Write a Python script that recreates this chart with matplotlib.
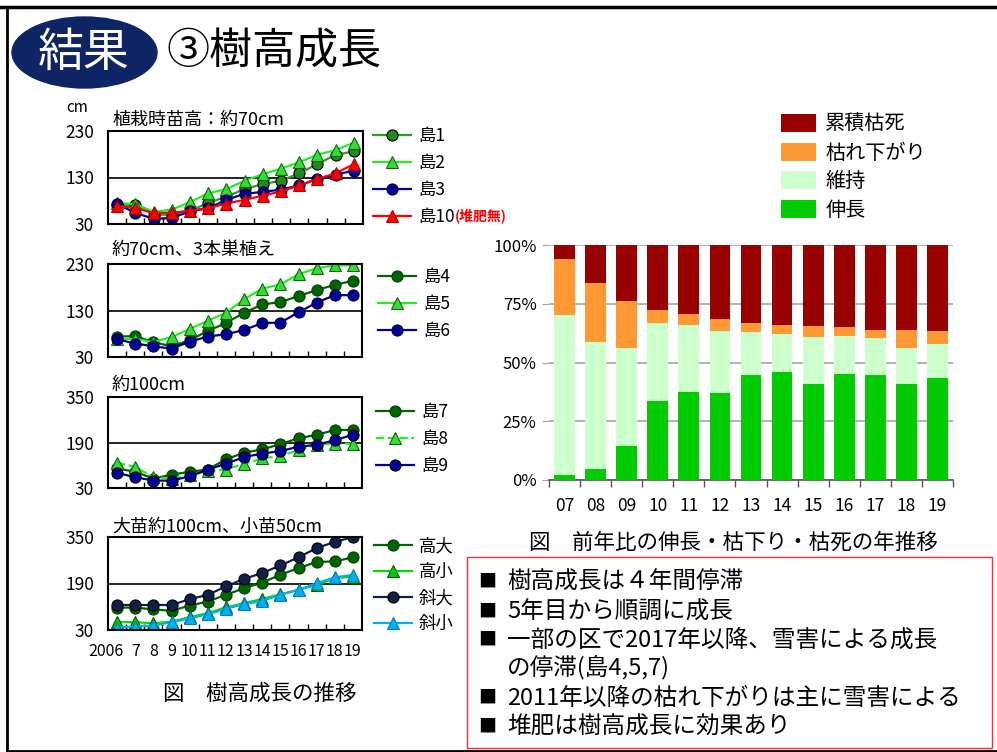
import numpy as np
import matplotlib
matplotlib.use("Agg")
import matplotlib.pyplot as plt
from matplotlib.patches import Ellipse, Rectangle, Patch
from matplotlib.lines import Line2D

plt.rcParams['font.family'] = ['Noto Sans CJK JP', 'DejaVu Sans']

W, H = 997, 752

# ---- data ----
years = [2006, 2007, 2008, 2009, 2010, 2011, 2012, 2013, 2014, 2015, 2016, 2017, 2018, 2019]
year_labels = ["2006", "7", "8", "9", "10", "11", "12", "13", "14", "15", "16", "17", "18", "19"]

shima1 = [71, 71, 50, 50, 59, 75, 89, 105, 116, 123, 139, 159, 179, 186]
shima2 = [75, 73, 56, 61, 77, 96, 105, 123, 137, 149, 163, 179, 189, 205]
shima3 = [73, 54, 41, 43, 57, 64, 82, 95, 99, 104, 113, 127, 136, 145]
shima10 = [69, 64, 54, 54, 59, 64, 74, 82, 91, 100, 113, 127, 139, 159]

shima4 = [74, 75, 62, 53, 66, 86, 103, 125, 143, 148, 161, 174, 185, 194]
shima5 = [69, 69, 62, 73, 90, 108, 125, 154, 177, 186, 208, 221, 227, 227]
shima6 = [68, 59, 53, 48, 63, 74, 79, 88, 103, 104, 126, 147, 163, 163]

shima7 = [99, 87, 63, 77, 87, 95, 131, 154, 166, 184, 205, 217, 234, 234]
shima8 = [119, 104, 68, 63, 75, 89, 95, 115, 134, 143, 163, 182, 186, 186]
shima9 = [83, 68, 56, 56, 71, 95, 115, 139, 151, 160, 175, 182, 198, 217]

taka_dai = [107, 107, 101, 96, 114, 128, 151, 174, 193, 220, 243, 264, 266, 280]
taka_sho = [57, 57, 53, 59, 74, 88, 108, 122, 137, 153, 168, 185, 208, 214]
naname_dai = [116, 116, 116, 116, 136, 151, 180, 206, 226, 252, 280, 312, 333, 350]
naname_sho = [38, 42, 45, 57, 70, 84, 103, 119, 130, 151, 168, 191, 211, 220]

bar_years = ["07", "08", "09", "10", "11", "12", "13", "14", "15", "16", "17", "18", "19"]
shincho = [2.1, 4.5, 14.5, 33.6, 37.6, 36.9, 44.7, 46.1, 40.9, 45.1, 44.7, 40.9, 43.5]
iji = [68.1, 54.1, 41.5, 33.1, 28.4, 26.5, 18.3, 16.0, 19.8, 16.2, 15.6, 15.1, 14.2]
karesagari = [23.8, 25.4, 20.3, 5.6, 4.6, 5.0, 3.7, 3.9, 4.8, 3.9, 3.5, 7.8, 5.7]
ruiseki = [6.0, 16.0, 23.7, 27.7, 29.4, 31.6, 33.3, 34.0, 34.5, 34.8, 36.2, 36.2, 36.6]

notes = ["樹高成長は４年間停滞", "5年目から順調に成長", "一部の区で2017年以降、雪害による成長",
         "の停滞(島4,5,7)", "2011年以降の枯れ下がりは主に雪害による", "堆肥は樹高成長に効果あり"]
note_bullets = [True, True, True, False, True, True]

fig = plt.figure(figsize=(W / 100, H / 100), dpi=100)


def px_axes(l, t, r, b):
    return fig.add_axes([l / W, 1 - b / H, (r - l) / W, (b - t) / H])


def fx(x):
    return x / W


def fy(y):
    return 1 - y / H


# ---- frame & title ----
fig.add_artist(Line2D([fx(0), fx(W)], [fy(7), fy(7)], color='black', lw=2.5))
fig.add_artist(Line2D([fx(7), fx(7)], [fy(7), fy(751)], color='black', lw=2))
fig.add_artist(Line2D([fx(7), fx(W)], [fy(751), fy(751)], color='black', lw=2))
fig.add_artist(Ellipse((fx(84.5), fy(52.5)), 145 / W, 71 / H, color='#0e2465'))
fig.text(fx(84), fy(53), "結果", color='white', fontsize=33, ha='center', va='center')
fig.text(fx(166), fy(52), "③樹高成長", color='black', fontsize=31, ha='left', va='center')

# ---- line charts ----
x = np.arange(len(years))

charts = [
    dict(box=(108, 131, 363, 224), yl=(30, 230), title="植栽時苗高：約70cm", ty=120,
         leg=(373, 127), sp=0.52,
         series=[("島1", shima1, dict(color='#2e9a2e', marker='o', mfc='#1f8a1f', mec='black')),
                 ("島2", shima2, dict(color='#22ee22', marker='^', mfc='#33dd33', mec='#116611')),
                 ("島3", shima3, dict(color='#000099', marker='o', mfc='#000099', mec='#000033')),
                 ("島10", shima10, dict(color='#ff0000', marker='^', mfc='#ff0000', mec='#aa0000'))]),
    dict(box=(108, 264, 362, 357), yl=(30, 230), title="約70cm、3本巣植え", ty=250,
         leg=(378, 268), sp=0.52,
         series=[("島4", shima4, dict(color='#006400', marker='o', mfc='#006400', mec='#004000')),
                 ("島5", shima5, dict(color='#22ee22', marker='^', mfc='#33dd33', mec='#116611')),
                 ("島6", shima6, dict(color='#000099', marker='o', mfc='#000099', mec='#000033'))]),
    dict(box=(108, 397, 362, 488), yl=(30, 350), title="約100cm", ty=385,
         leg=(376, 403), sp=0.52,
         series=[("島7", shima7, dict(color='#006400', marker='o', mfc='#006400', mec='#004000')),
                 ("島8", shima8, dict(color='#22ee22', marker='^', mfc='#33dd33', mec='#116611', ls='--')),
                 ("島9", shima9, dict(color='#000099', marker='o', mfc='#000099', mec='black'))]),
    dict(box=(108, 537, 362, 630), yl=(30, 350), title="大苗約100cm、小苗50cm", ty=527,
         leg=(374, 537), sp=0.47,
         series=[("高大", taka_dai, dict(color='#006400', marker='o', mfc='#006400', mec='#004000')),
                 ("高小", taka_sho, dict(color='#00dd00', marker='^', mfc='#00cc00', mec='#005500')),
                 ("斜大", naname_dai, dict(color='#10204a', marker='o', mfc='#10204a', mec='black')),
                 ("斜小", naname_sho, dict(color='#00b0f0', marker='^', mfc='#00b0f0', mec='#0080c0'))]),
]

for i, c in enumerate(charts):
    ax = px_axes(*c['box'])
    lo, hi = c['yl']
    for name, vals, st in c['series']:
        ax.plot(x, vals, lw=1.6, ms=8, mew=0.8, label=name, **st)
    ax.axhline((lo + hi) / 2, color='black', lw=1.2, zorder=0)
    ax.set_xlim(-0.5, len(years) - 0.5)
    ax.set_ylim(lo, hi)
    ax.set_yticks([lo, (lo + hi) / 2, hi])
    ax.set_yticklabels([str(lo), str(int((lo + hi) / 2)), str(hi)], fontsize=12.5)
    ax.tick_params(axis='y', length=0, pad=10)
    ax.set_xticks(x)
    if i == 3:
        # first label "2006" is wider than the spacing, nudge it left
        ax.set_xticklabels([""] + year_labels[1:], fontsize=11.5)
        ax.annotate(year_labels[0], xy=(x[0], 0), xycoords=('data', 'axes fraction'),
                    xytext=(-8, -9), textcoords='offset points', ha='center', va='top',
                    fontsize=11.5)
    else:
        ax.set_xticklabels([])
    ax.tick_params(axis='x', which='major', length=0, pad=9)
    ax.set_xticks(np.arange(0.5, len(years) - 1), minor=True)
    ax.tick_params(axis='x', which='minor', direction='in', length=4, width=1)
    for s in ax.spines.values():
        s.set_linewidth(1.5)
    ax.legend(loc='upper left', bbox_to_anchor=(fx(c['leg'][0]), fy(c['leg'][1])),
              bbox_transform=fig.transFigure, frameon=False, fontsize=12.5,
              borderaxespad=0, borderpad=0, handlelength=2.2, handletextpad=0.4,
              labelspacing=c['sp'])
    fig.text(fx(112), fy(c['ty']), c['title'], fontsize=13, ha='left', va='center')

fig.text(fx(77), fy(108), "cm", fontsize=11, ha='center', va='center')
fig.text(fx(455), fy(217), "(堆肥無)", fontsize=10, color='#ff0000', fontweight='bold',
         ha='left', va='center')
fig.text(fx(260), fy(694), "図　樹高成長の推移", fontsize=15.5, ha='center', va='center')

# ---- stacked bar chart ----
bx = px_axes(549, 245, 953, 480)
xb = np.arange(len(bar_years))
bw = 0.67
layers = [("伸長", shincho, '#00cc00'), ("維持", iji, '#ccffcc'),
          ("枯れ下がり", karesagari, '#ff9933'), ("累積枯死", ruiseki, '#990000')]
bottom = np.zeros(len(bar_years))
handles = []
for name, vals, col in layers:
    bx.bar(xb, vals, bw, bottom=bottom, color=col, zorder=3)
    bottom = bottom + np.array(vals)
    handles.append(Patch(facecolor=col, label=name))
bx.set_xlim(-0.5, len(bar_years) - 0.5)
bx.set_ylim(0, 100)
bx.set_yticks([0, 25, 50, 75, 100])
bx.set_yticklabels(["0%", "25%", "50%", "75%", "100%"], fontsize=12)
bx.yaxis.grid(True, color='#a6a6a6', lw=1.2, zorder=0)
bx.tick_params(axis='y', length=5, color='#a6a6a6', pad=4)
bx.set_xticks(xb)
bx.set_xticklabels(bar_years, fontsize=12.5)
bx.tick_params(axis='x', which='major', length=0, pad=12)
bx.set_xticks(np.arange(-0.5, len(bar_years)), minor=True)
bx.tick_params(axis='x', which='minor', direction='out', length=5, width=1, color='#555555')
for side in ['top', 'right', 'left']:
    bx.spines[side].set_visible(False)
bx.spines['bottom'].set_color('#555555')
bx.spines['bottom'].set_linewidth(1.2)

fig.legend(handles=handles[::-1], loc='upper left', bbox_to_anchor=(fx(781), fy(114)),
           frameon=False, fontsize=14.5, borderaxespad=0, borderpad=0,
           handlelength=1.75, handleheight=1.0, handletextpad=0.45, labelspacing=0.38)
fig.text(fx(733), fy(543), "図　前年比の伸長・枯下り・枯死の年推移", fontsize=15.5,
         ha='center', va='center')

# ---- notes box ----
fig.add_artist(Rectangle((fx(467), fy(748)), (992 - 467) / W, (748 - 557) / H,
                         transform=fig.transFigure, fill=False, edgecolor='#ee3333', lw=1))
note_y = [582, 612, 640, 668, 698, 727]
for txt, bullet, yy in zip(notes, note_bullets, note_y):
    if bullet:
        fig.text(fx(478), fy(yy), "■", fontsize=13, ha='left', va='center')
    fig.text(fx(507), fy(yy), txt, fontsize=17, ha='left', va='center')

fig.savefig("out.png", dpi=100)
